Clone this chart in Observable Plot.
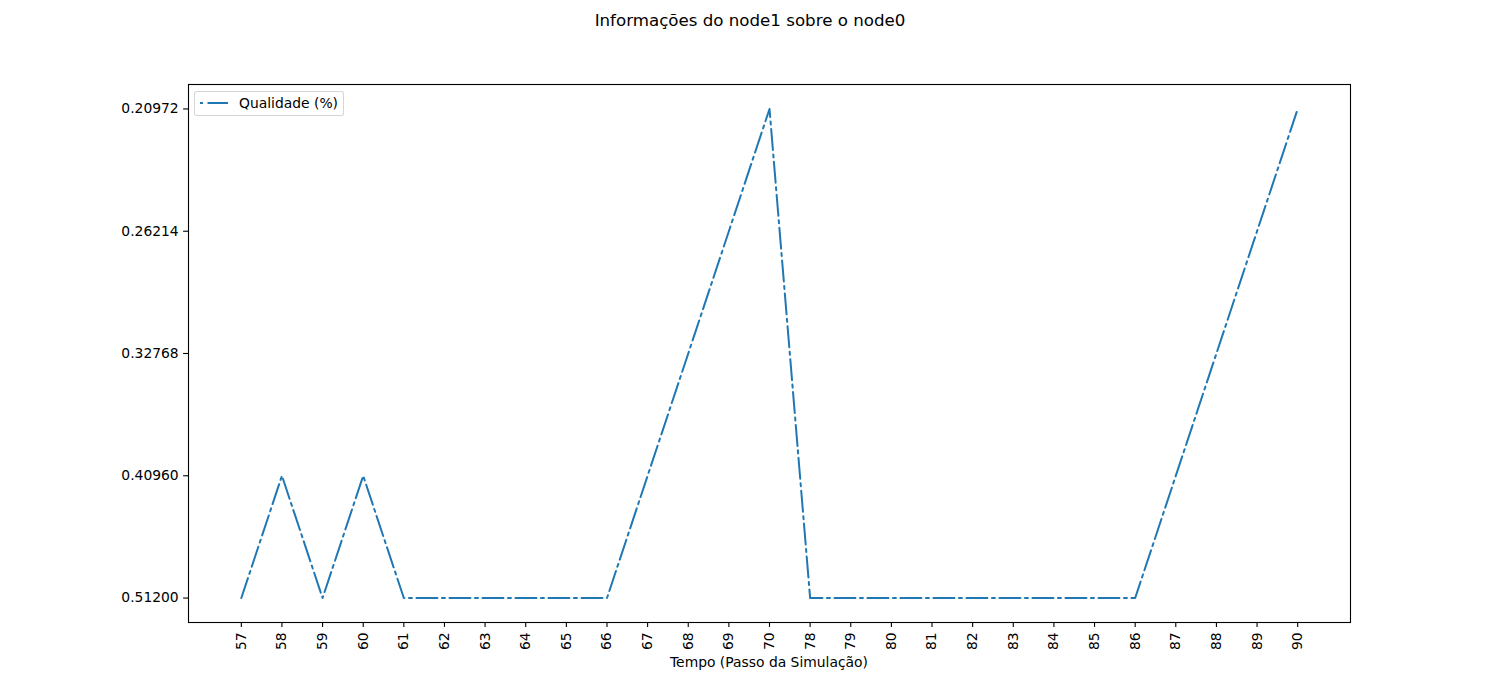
<!DOCTYPE html>
<html>
<head>
<meta charset="utf-8">
<script src="https://cdn.jsdelivr.net/npm/d3@7"></script>
<script src="https://cdn.jsdelivr.net/npm/@observablehq/plot@0.6"></script>
<style>
  body { margin: 0; background: #fff; font-family: "DejaVu Sans", sans-serif; }
  #wrap { position: relative; width: 1500px; height: 700px; }
  #title { height: 42px; line-height: 42px; text-align: center; font-size: 16.67px; color: #000; }
  #legend { position: absolute; left: 194px; top: 91px; width: 150px; height: 25px; box-sizing: border-box;
            border: 1px solid rgba(204,204,204,0.8); border-radius: 3px; background: rgba(255,255,255,0.8);
            font-size: 13.89px; }
  #legend svg { position: absolute; left: 5px; top: 9px; }
  #legend span { position: absolute; left: 44px; top: 2px; line-height: 18px; }
</style>
</head>
<body>
<div id="wrap">
  <div id="title">Informações do node1 sobre o node0</div>
  <div id="chart"></div>
  <div id="legend"><svg width="30" height="4"><line x1="0" y1="2" x2="28" y2="2" stroke="#1f77b4" stroke-width="2" stroke-dasharray="3,4.5,21,4.5" stroke-dashoffset="0"/></svg><span>Qualidade (%)</span></div>
</div>
<script>
const steps = ["57","58","59","60","61","62","63","64","65","66","67","68","69","70","78","79","80","81","82","83","84","85","86","87","88","89","90"];
const quality = ["0.51200","0.40960","0.51200","0.40960","0.51200","0.51200","0.51200","0.51200","0.51200","0.51200","0.40960","0.32768","0.26214","0.20972","0.51200","0.51200","0.51200","0.51200","0.51200","0.51200","0.51200","0.51200","0.51200","0.40960","0.32768","0.26214","0.20972"];
const yCategories = ["0.20972","0.26214","0.32768","0.40960","0.51200"];

const data = steps.map((s, i) => ({step: s, q: quality[i]}));

const chart = Plot.plot({
  width: 1500,
  height: 658,
  marginLeft: 188,
  marginRight: 150,
  marginTop: 42,
  marginBottom: 78,
  style: {fontFamily: "DejaVu Sans, sans-serif", fontSize: "13.89px", color: "#000", background: "#fff"},
  x: {type: "point", domain: steps, padding: 1.3, round: false},
  y: {type: "point", domain: yCategories, padding: 0.2, round: false},
  marks: [
    Plot.frame({stroke: "#000", strokeWidth: 1.1}),
    Plot.axisY({tickSize: 4.9, tickPadding: 4.9, strokeWidth: 1.1, label: null, fontSize: 13.89}),
    Plot.axisX({tickSize: 4.9, tickPadding: 4.9, tickRotate: -90, strokeWidth: 1.1, label: null, fontSize: 13.89}),
    Plot.line(data, {x: "step", y: "q", stroke: "#1f77b4", strokeWidth: 2, strokeDasharray: "21,4.5,3,4.5"})
  ]
});
document.getElementById("chart").appendChild(chart);

const xl = document.createElement("div");
xl.textContent = "Tempo (Passo da Simulação)";
xl.style.cssText = "position:absolute;left:188px;width:1162px;top:653px;text-align:center;font-size:13.89px;line-height:18px;";
document.getElementById("wrap").appendChild(xl);
</script>
</body>
</html>
